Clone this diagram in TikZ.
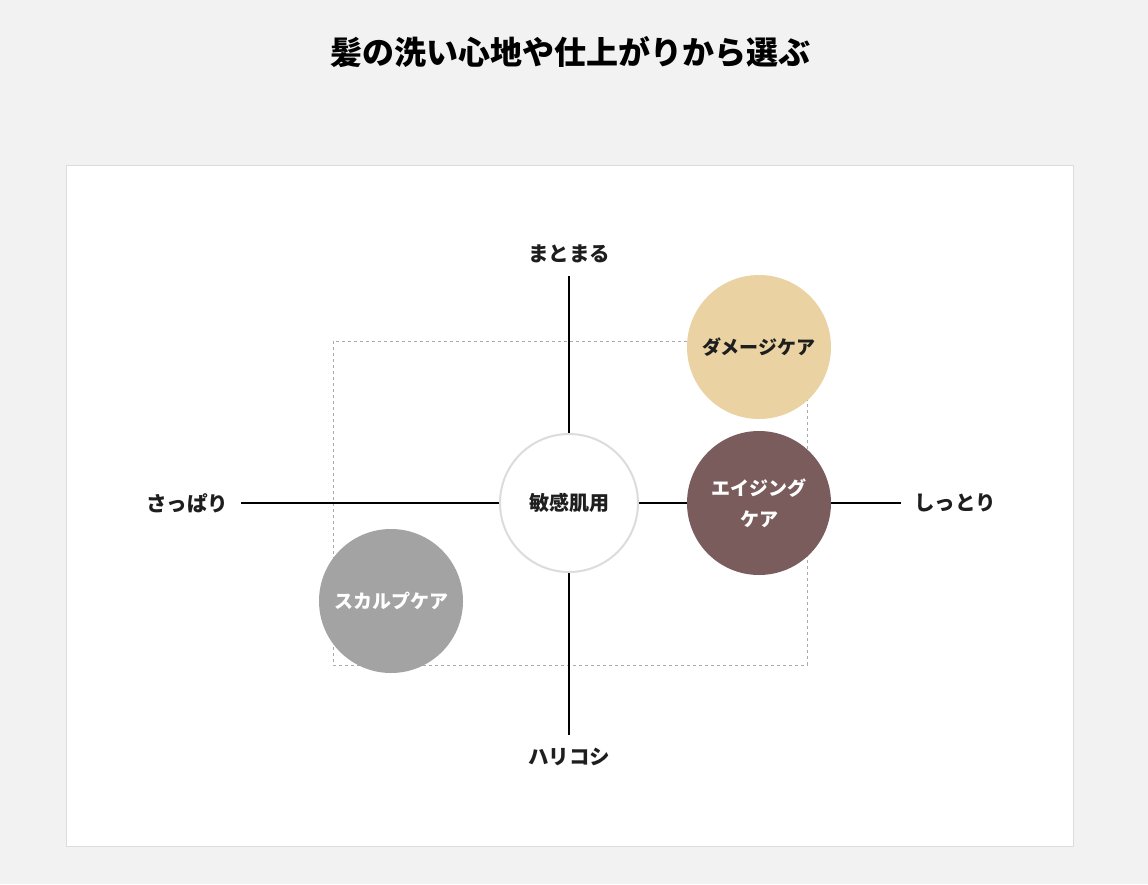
\documentclass[tikz,border=0pt]{standalone}
\usepackage{fontspec}
\setmainfont{Noto Sans CJK JP}
\usepackage{tikz}
\usetikzlibrary{positioning}

\definecolor{pagebg}{HTML}{F2F2F2}
\definecolor{panelline}{HTML}{DCDCDC}
\definecolor{dashline}{HTML}{ABABAB}
\definecolor{damagefill}{HTML}{EAD2A2}
\definecolor{agingfill}{HTML}{7A5C5C}
\definecolor{scalpfill}{HTML}{A3A3A3}
\definecolor{inktext}{HTML}{1E1E1E}

\begin{document}
\begin{tikzpicture}[
    x=1pt, y=-1pt,
    axislabel/.style={font=\fontsize{20.5}{23}\selectfont\bfseries, text=inktext, inner sep=13pt},
    axisline/.style={line width=2pt, black},
    bubble/.style={circle, minimum size=144pt, inner sep=0pt, align=center, font=\fontsize{19}{31}\selectfont\bfseries},
    centerbubble/.style={bubble, minimum size=138pt, fill=white, draw=panelline, line width=2pt, text=inktext, font=\fontsize{20}{24}\selectfont\bfseries}
]

% Hintergrund
\fill[pagebg] (0,0) rectangle (1148,884);
\draw[panelline, fill=white, line width=1pt] (66,165) rectangle (1073,846);

% Titel
\node[font=\fontsize{32}{36}\selectfont\bfseries, text=black] (title) at (570,52) {髪の洗い心地や仕上がりから選ぶ};

% Achsen
\node[axislabel] (top) at (569,254) {まとまる};
\node[axislabel] (bottom) at (569,757) {ハリコシ};
\node[axislabel] (left) at (187,503) {さっぱり};
\node[axislabel] (right) at (955,503) {しっとり};

\draw[dashline, dashed, line width=1pt] (333,341) rectangle (807,665);

\draw[axisline] (top) -- (bottom);
\draw[axisline] (left) -- (right);

% Kreise
\node[centerbubble] (sensitive) at (569,503) {敏感肌用};
\node[bubble, fill=damagefill, text=inktext] (damage) at (759,347) {ダメージケア};
\node[bubble, fill=agingfill, text=white] (aging) at (759,503) {エイジング\\ケア};
\node[bubble, fill=scalpfill, text=white] (scalp) at (391,601) {スカルプケア};

\end{tikzpicture}
\end{document}
